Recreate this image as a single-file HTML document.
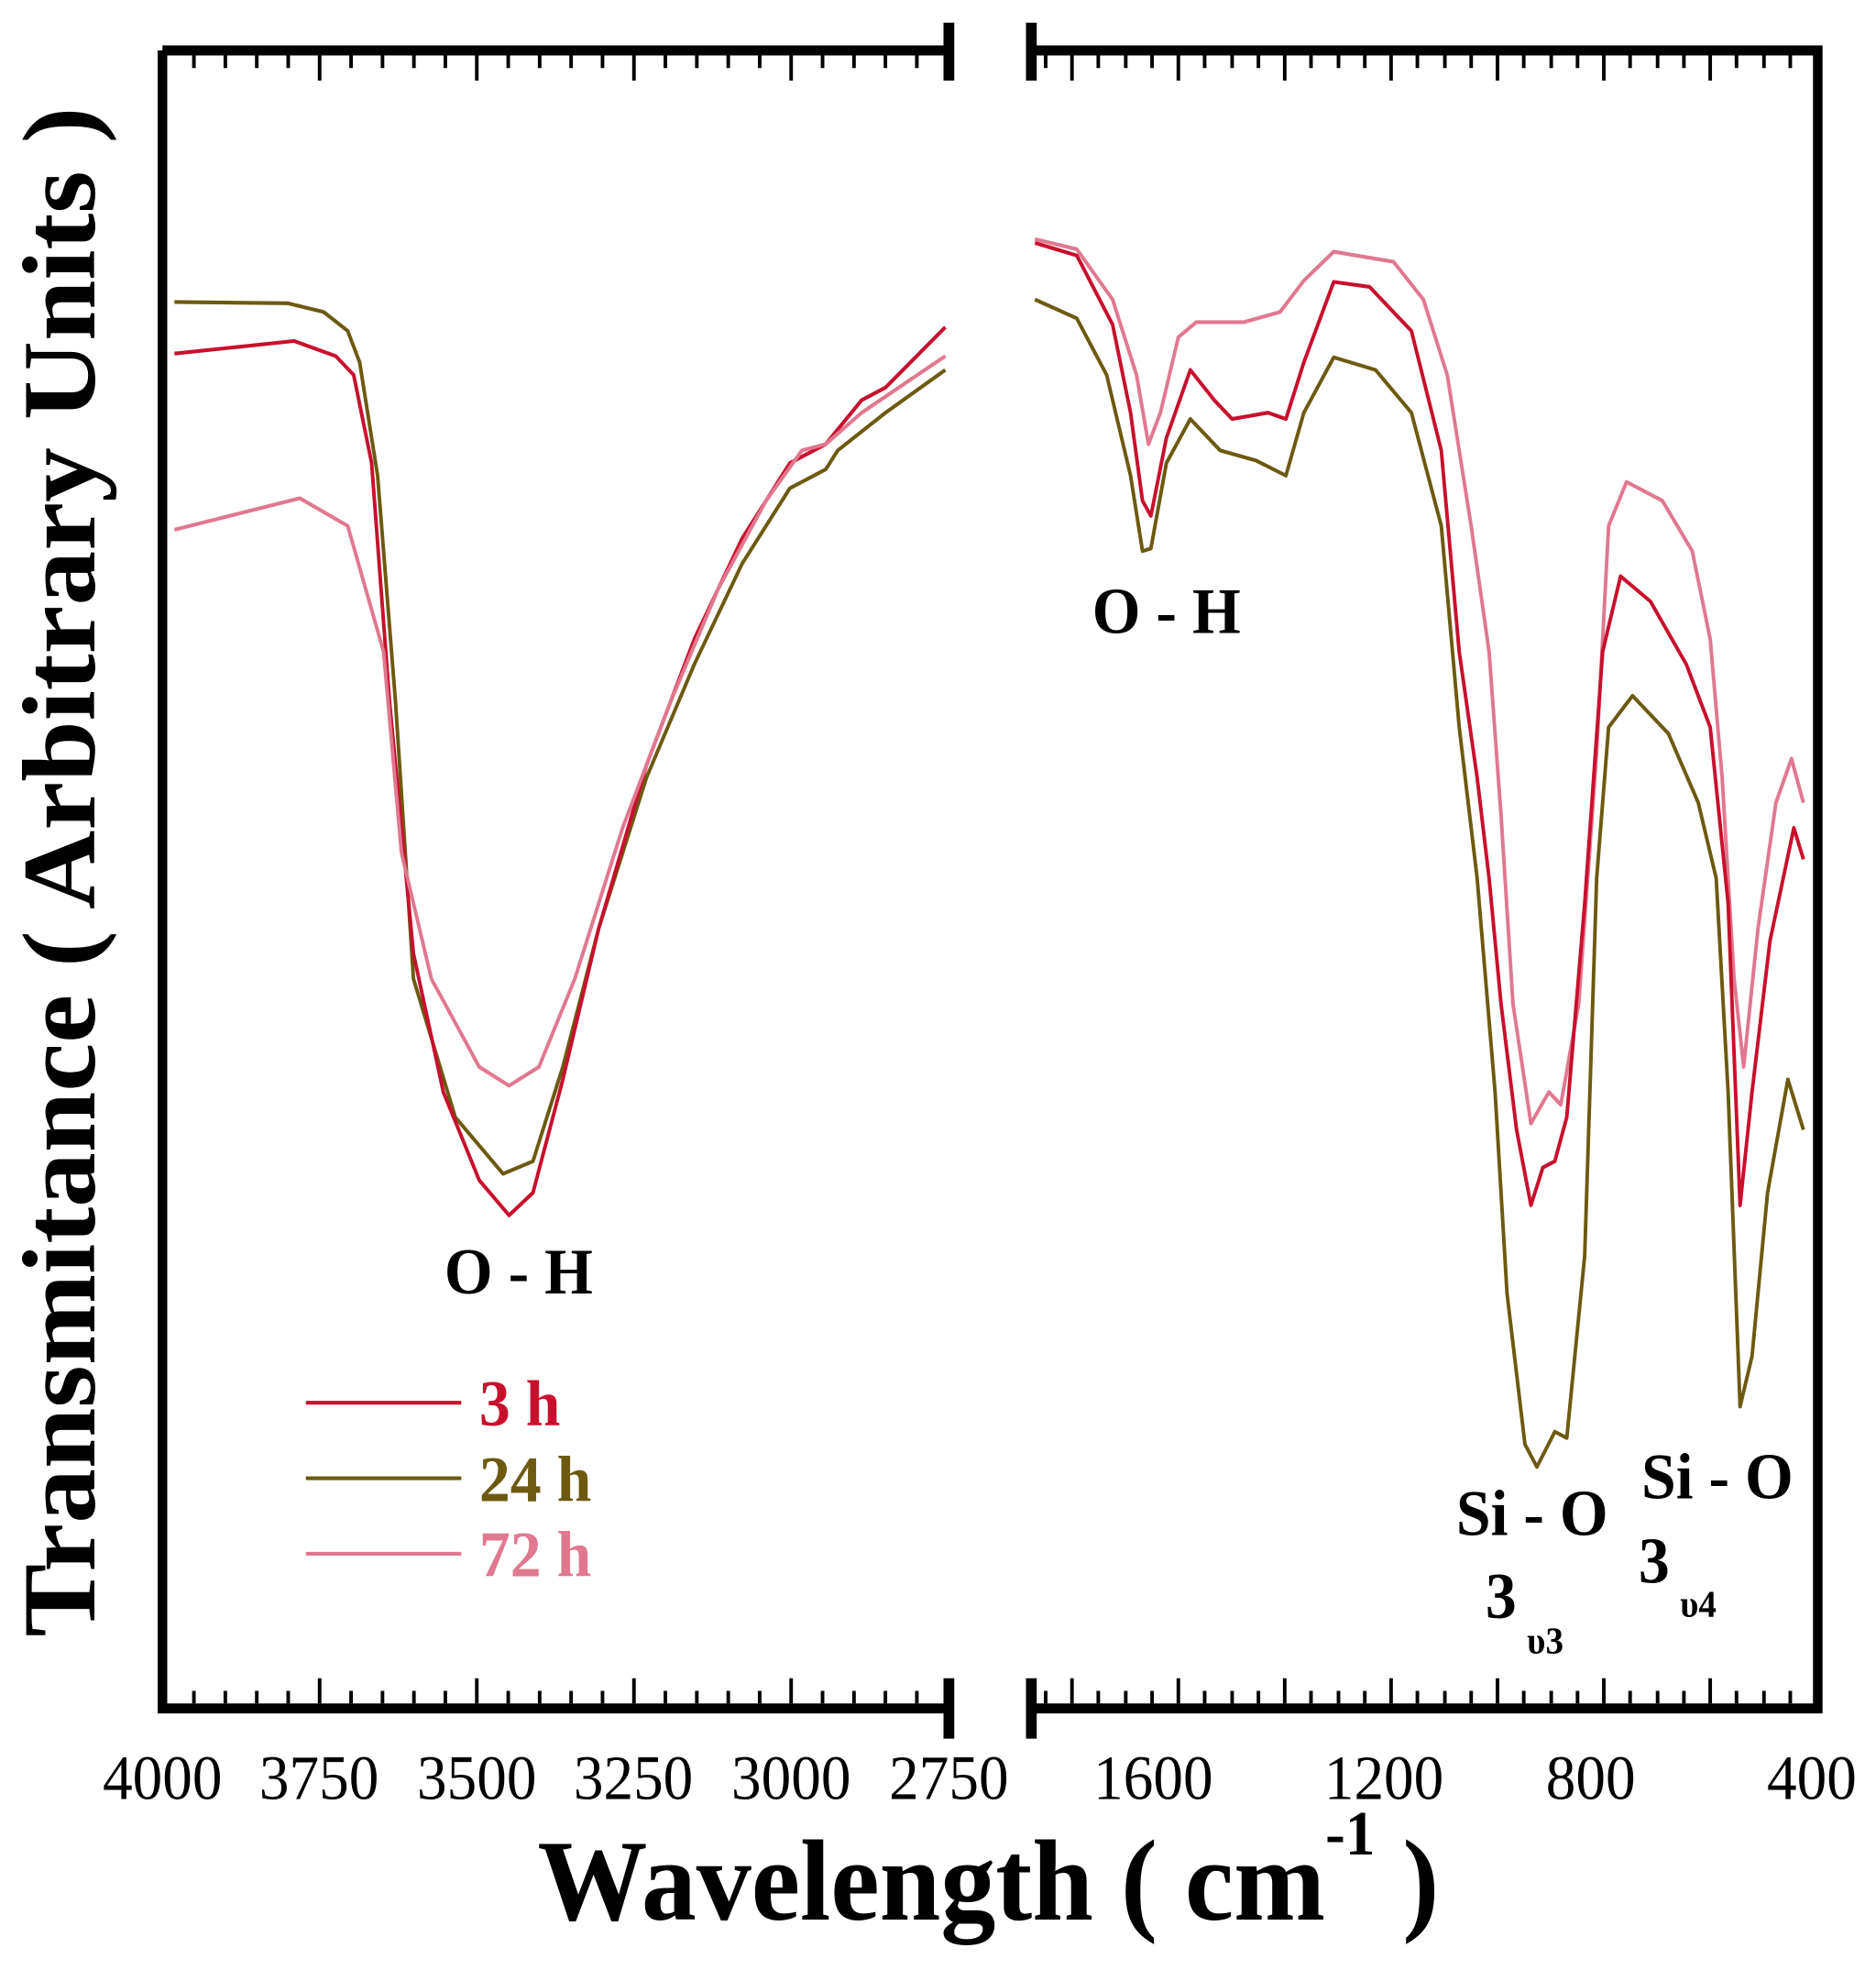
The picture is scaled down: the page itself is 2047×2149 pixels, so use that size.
<!DOCTYPE html>
<html><head><meta charset="utf-8"><style>
html,body{margin:0;padding:0;background:#fff;}
svg{display:block;}
text{font-family:"Liberation Serif",serif;}
</style></head><body>
<svg width="2047" height="2149" viewBox="0 0 1560 1638" xmlns="http://www.w3.org/2000/svg">
<g transform="translate(135,44) scale(0.994,1.046) translate(-135,-44)">
<g stroke="#000" fill="none">
<path d="M135,42 H793 M862,42 H1520 V1360 H862 M793,1360 H135 V42" stroke-width="8"/>
<path d="M793,20 V66 M862,20 V66 M793,1336 V1384 M862,1336 V1384" stroke-width="9"/>
</g>
<g fill="none" stroke-width="3" stroke-linejoin="round">
<path stroke="#6b5a10" d="M145,242 L240,243 L270,250 L290,265 L300,290 L315,380 L330,560 L345,780 L380,890 L420,935 L445,925 L470,850 L500,740 L540,620 L580,530 L620,450 L660,390 L690,375 L700,360 L740,330 L790,296"/>
<path stroke="#c8102e" d="M145,283 L245,273 L280,285 L295,300 L310,370 L325,560 L345,760 L370,870 L400,940 L425,968 L445,950 L470,860 L500,740 L540,610 L580,510 L620,430 L660,370 L690,355 L720,320 L740,310 L790,262"/>
<path stroke="#e07890" d="M145,423 L250,398 L290,420 L320,520 L335,680 L360,780 L400,850 L425,865 L450,850 L480,780 L520,660 L560,560 L600,470 L640,400 L670,360 L690,355 L720,330 L790,285"/>
<path stroke="#e07890" d="M865,192 L900,200 L930,240 L950,300 L960,355 L970,330 L985,270 L1000,258 L1040,258 L1070,250 L1090,225 L1115,202 L1165,210 L1190,240 L1210,300 L1230,420 L1245,520 L1255,650 L1265,800 L1280,895 L1295,870 L1305,880 L1320,800 L1335,600 L1345,420 L1360,385 L1390,400 L1415,440 L1430,510 L1440,620 L1450,780 L1458,850 L1470,740 L1485,640 L1498,605 L1508,640"/>
<path stroke="#c8102e" d="M865,195 L900,205 L930,260 L945,330 L955,400 L962,412 L975,350 L995,296 L1015,320 L1030,335 L1060,330 L1075,335 L1090,290 L1115,226 L1145,230 L1180,265 L1205,360 L1220,520 L1235,620 L1245,700 L1255,800 L1268,900 L1280,960 L1290,930 L1300,925 L1310,890 L1325,720 L1340,520 L1355,460 L1380,480 L1410,530 L1430,580 L1445,720 L1455,960 L1465,870 L1480,750 L1500,660 L1508,685"/>
<path stroke="#6b5a10" d="M865,240 L900,255 L925,300 L945,380 L955,440 L962,438 L975,370 L995,335 L1020,360 L1050,368 L1075,380 L1090,330 L1115,286 L1150,296 L1180,330 L1205,420 L1220,580 L1235,700 L1250,870 L1260,1030 L1275,1150 L1285,1168 L1300,1140 L1310,1145 L1325,1000 L1335,700 L1345,580 L1365,555 L1395,585 L1420,640 L1435,700 L1445,870 L1455,1120 L1465,1080 L1478,950 L1495,860 L1508,900"/>
<path stroke="#c8102e" d="M255,1117 H385"/>
<path stroke="#6b5a10" d="M255,1177 H385"/>
<path stroke="#e07890" d="M255,1237 H385"/>
</g>
<g font-weight="bold" font-size="52">
<text x="400" y="1135" fill="#c8102e">3 h</text>
<text x="400" y="1195" fill="#6b5a10">24 h</text>
<text x="400" y="1255" fill="#e07890">72 h</text>
<text x="433" y="1030" text-anchor="middle">O - H</text>
<text x="975" y="505" text-anchor="middle">O - H</text>
<text x="1281" y="1222" text-anchor="middle">Si - O</text>
<text x="1255" y="1288" text-anchor="middle">3</text>
<text x="1436" y="1193" text-anchor="middle">Si - O</text>
<text x="1383" y="1260" text-anchor="middle">3</text>
</g>
<g font-weight="bold" font-size="30">
<text x="1292" y="1316" text-anchor="middle">υ3</text>
<text x="1420" y="1287" text-anchor="middle">υ4</text>
</g>
<g font-size="50" text-anchor="middle">
<text x="135" y="1432">4000</text><text x="266" y="1432">3750</text><text x="398" y="1432">3500</text><text x="529" y="1432">3250</text><text x="661" y="1432">3000</text><text x="793" y="1432">2750</text>
<text x="964" y="1432">1600</text><text x="1157" y="1432">1200</text><text x="1330" y="1432">800</text><text x="1515" y="1432">400</text>
</g>
<text x="826" y="1528" font-size="92" font-weight="bold" text-anchor="middle">Wavelength ( cm<tspan font-size="50" dy="-52">-1</tspan><tspan dy="52"> )</tspan></text>
<text transform="translate(78,695) rotate(-90)" font-size="87" font-weight="bold" text-anchor="middle">Transmitance ( Arbitrary Units )</text>
<path stroke="#000" stroke-width="3" d="
M161.3,46 v10 M187.6,46 v10 M213.9,46 v10 M240.2,46 v10 M266.5,46 v20 M292.8,46 v10 M319.1,46 v10 M345.4,46 v10 M371.7,46 v10 M398,46 v20 M424.3,46 v10 M450.6,46 v10 M476.9,46 v10 M503.2,46 v10 M529.5,46 v20 M555.8,46 v10 M582.1,46 v10 M608.4,46 v10 M634.7,46 v10 M661,46 v20 M687.3,46 v10 M713.6,46 v10 M739.9,46 v10 M766.2,46 v10
M161.3,1356 v-10 M187.6,1356 v-10 M213.9,1356 v-10 M240.2,1356 v-10 M266.5,1356 v-20 M292.8,1356 v-10 M319.1,1356 v-10 M345.4,1356 v-10 M371.7,1356 v-10 M398,1356 v-20 M424.3,1356 v-10 M450.6,1356 v-10 M476.9,1356 v-10 M503.2,1356 v-10 M529.5,1356 v-20 M555.8,1356 v-10 M582.1,1356 v-10 M608.4,1356 v-10 M634.7,1356 v-10 M661,1356 v-20 M687.3,1356 v-10 M713.6,1356 v-10 M739.9,1356 v-10 M766.2,1356 v-10
M874,46 v10 M896,46 v20 M918,46 v10 M941,46 v10 M963,46 v10 M985,46 v20 M1007,46 v10 M1030,46 v10 M1052,46 v10 M1074,46 v20 M1096,46 v10 M1119,46 v10 M1141,46 v10 M1163,46 v20 M1185,46 v10 M1208,46 v10 M1230,46 v10 M1252,46 v20 M1274,46 v10 M1297,46 v10 M1319,46 v10 M1341,46 v20 M1363,46 v10 M1386,46 v10 M1408,46 v10 M1430,46 v20 M1452,46 v10 M1475,46 v10 M1497,46 v10
M874,1356 v-10 M896,1356 v-20 M918,1356 v-10 M941,1356 v-10 M963,1356 v-10 M985,1356 v-20 M1007,1356 v-10 M1030,1356 v-10 M1052,1356 v-10 M1074,1356 v-20 M1096,1356 v-10 M1119,1356 v-10 M1141,1356 v-10 M1163,1356 v-20 M1185,1356 v-10 M1208,1356 v-10 M1230,1356 v-10 M1252,1356 v-20 M1274,1356 v-10 M1297,1356 v-10 M1319,1356 v-10 M1341,1356 v-20 M1363,1356 v-10 M1386,1356 v-10 M1408,1356 v-10 M1430,1356 v-20 M1452,1356 v-10 M1475,1356 v-10 M1497,1356 v-10"/>
</g>
</svg>
</body></html>
